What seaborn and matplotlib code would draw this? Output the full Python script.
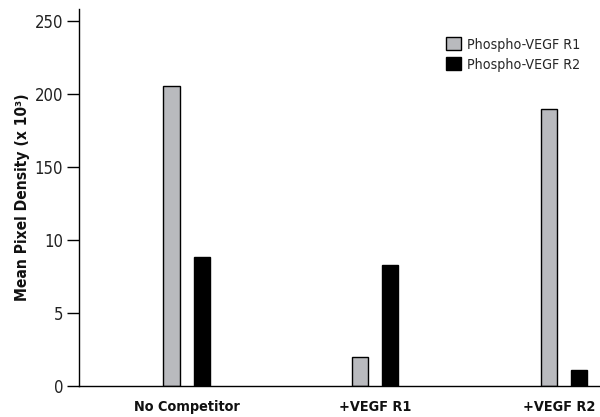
import numpy as np
import pandas as pd
import matplotlib
matplotlib.use("Agg")
import matplotlib.pyplot as plt
import matplotlib.transforms as mtransforms
import seaborn as sns
from matplotlib.patches import Patch

groups = ["No Competitor", "+VEGF R1", "+VEGF R2"]
r1_values = [206.0, 2.0, 190.0]
r2_values = [8.8, 8.3, 1.1]
series_names = ["Phospho-VEGF R1", "Phospho-VEGF R2"]
ytick_values = [0, 5, 10, 150, 200, 250]
ytick_labels = ["0", "5", "10", "150", "200", "250"]

df = pd.DataFrame({
    "group": groups * 2,
    "value": r1_values + r2_values,
    "series": [series_names[0]] * 3 + [series_names[1]] * 3,
})

sns.set_style("white")
plt.rcParams["font.family"] = ["DejaVu Sans"]
plt.rcParams["font.stretch"] = "condensed"

fig = plt.figure(figsize=(6.0, 4.17), dpi=100)
ax = fig.add_axes([79 / 600, 1 - 385.7 / 417, 1 - 79 / 600, (385.7 - 9) / 417])

# broken (piecewise-linear) y scale: each tick equally spaced
_vals = np.array([-50.0] + ytick_values + [300.0])
_pos = np.array([-1.0, 0, 1, 2, 3, 4, 5, 6])


def fwd(v):
    return np.interp(v, _vals, _pos)


def inv(p):
    return np.interp(p, _pos, _vals)


palette = {series_names[0]: "#b9babe", series_names[1]: "#000000"}
sns.barplot(data=df, x="group", y="value", hue="series", order=groups,
            hue_order=series_names, palette=palette, width=0.32, gap=0.47,
            edgecolor="black", linewidth=1.0, saturation=1, ax=ax, legend=False)

ax.set_yscale("function", functions=(fwd, inv))
ax.set_ylim(0, 258.5)
ax.set_xlim(-0.57, 2.19)
ax.set_yticks(ytick_values)
ax.set_yticklabels(ytick_labels)
ax.yaxis.set_minor_locator(matplotlib.ticker.NullLocator())

for s in ["top", "right"]:
    ax.spines[s].set_visible(False)
for s in ["left", "bottom"]:
    ax.spines[s].set_color("black")
    ax.spines[s].set_linewidth(1.0)

ax.tick_params(axis="y", length=8.5, width=1.0, color="black", labelsize=12,
               labelcolor="#222222", pad=3, left=True)
ax.tick_params(axis="x", length=0, labelsize=10.4, labelcolor="#111111", pad=10.5)
xlabels = ax.get_xticklabels()
for lbl in xlabels:
    lbl.set_fontweight("bold")
# nudge the last label slightly left so it stays inside the figure
xlabels[-1].set_transform(xlabels[-1].get_transform() +
                          mtransforms.ScaledTranslation(-5 / 100, 0, fig.dpi_scale_trans))

ax.set_xlabel("")
ax.set_ylabel("Mean Pixel Density (x 10³)", fontsize=11.2, fontweight="bold",
              color="#111111", labelpad=3)

handles = [Patch(facecolor=palette[n], edgecolor="black", linewidth=1.0, label=n)
           for n in series_names]
ax.legend(handles=handles, loc="upper right", bbox_to_anchor=(0.962, 0.925),
          frameon=False, fontsize=10.2, handlelength=1.05, handleheight=1.05,
          handletextpad=0.4, labelspacing=0.4, borderaxespad=0.0, borderpad=0.0)

fig.savefig("out.png", dpi=100)
